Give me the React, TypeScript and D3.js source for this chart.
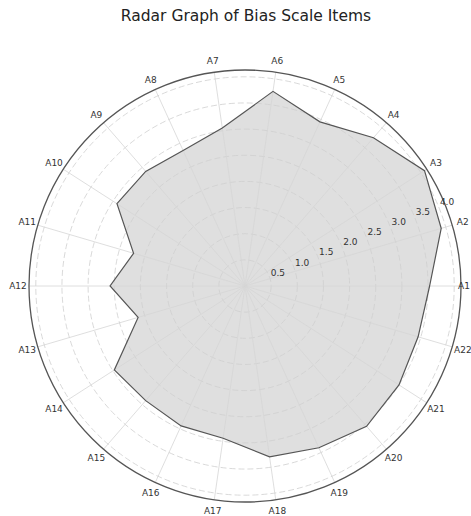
import React, { useEffect, useRef } from "react";
import * as d3 from "d3";

const items = ["A1", "A2", "A3", "A4", "A5", "A6", "A7", "A8", "A9", "A10", "A11",
  "A12", "A13", "A14", "A15", "A16", "A17", "A18", "A19", "A20", "A21", "A22"];
const scores = [3.53, 3.91, 4.08, 3.75, 3.45, 3.76, 3.05, 2.85, 2.9, 2.91, 2.22,
  2.58, 2.13, 2.97, 2.9, 2.94, 2.94, 3.3, 3.4, 3.55, 3.5, 3.45];
const rTicks = [0.5, 1.0, 1.5, 2.0, 2.5, 3.0, 3.5, 4.0];
const rMax = 4.13;

export default function App() {
  const ref = useRef<SVGSVGElement>(null);

  useEffect(() => {
    const width = 471, height = 516;
    const cx = 245, cy = 286, R = 216;
    const font = "DejaVu Sans, sans-serif";

    const svg = d3.select(ref.current);
    svg.selectAll("*").remove();

    svg.append("text")
      .attr("x", cx + 1)
      .attr("y", 20.5)
      .attr("text-anchor", "middle")
      .attr("font-family", font)
      .attr("font-size", 15.5)
      .attr("fill", "#222")
      .text("Radar Graph of Bias Scale Items");

    const r = d3.scaleLinear().domain([0, rMax]).range([0, R]);
    const angle = d3.scaleLinear().domain([0, items.length]).range([0, 2 * Math.PI]);
    // angle counter-clockwise from east
    const px = (a: number, rad: number) => cx + rad * Math.cos(a);
    const py = (a: number, rad: number) => cy - rad * Math.sin(a);

    const g = svg.append("g");

    const pts = scores.map((v, i) => [px(angle(i), r(v)), py(angle(i), r(v))] as [number, number]);
    const line = d3.line().curve(d3.curveLinearClosed);

    g.append("path")
      .attr("d", line(pts))
      .attr("fill", "#dfdfdf")
      .attr("stroke", "none");

    g.selectAll("circle.ring")
      .data(rTicks)
      .enter().append("circle")
      .attr("class", "ring")
      .attr("cx", cx)
      .attr("cy", cy)
      .attr("r", (d) => r(d))
      .attr("fill", "none")
      .attr("stroke", "#cfcfcf")
      .attr("stroke-width", 0.8)
      .attr("stroke-dasharray", "6,3");

    g.selectAll("line.spoke")
      .data(items)
      .enter().append("line")
      .attr("class", "spoke")
      .attr("x1", cx)
      .attr("y1", cy)
      .attr("x2", (d, i) => px(angle(i), R))
      .attr("y2", (d, i) => py(angle(i), R))
      .attr("stroke", "#d6d6d6")
      .attr("stroke-width", 0.8);

    g.append("path")
      .attr("d", line(pts))
      .attr("fill", "none")
      .attr("stroke", "#555")
      .attr("stroke-width", 1.2);

    g.append("circle")
      .attr("cx", cx)
      .attr("cy", cy)
      .attr("r", R)
      .attr("fill", "none")
      .attr("stroke", "#555")
      .attr("stroke-width", 1.3);

    const la = (22.5 * Math.PI) / 180;
    g.selectAll("text.rtick")
      .data(rTicks)
      .enter().append("text")
      .attr("class", "rtick")
      .attr("x", (d) => px(la, r(d) + 9.5))
      .attr("y", (d) => py(la, r(d) + 9.5))
      .attr("dy", "0.35em")
      .attr("text-anchor", "middle")
      .attr("font-family", font)
      .attr("font-size", 9)
      .attr("fill", "#333")
      .text((d) => d.toFixed(1));

    // angular labels; A1 sits at the page edge, so pin it inside
    g.selectAll("text.atick")
      .data(items)
      .enter().append("text")
      .attr("class", "atick")
      .attr("x", (d, i) => Math.min(px(angle(i), R + 11), width - 1))
      .attr("y", (d, i) => py(angle(i), R + 11))
      .attr("dy", "0.35em")
      .attr("text-anchor", (d, i) => px(angle(i), R + 11) > width - 8 ? "end" : "middle")
      .attr("font-family", font)
      .attr("font-size", 9)
      .attr("fill", "#333")
      .text((d) => d);

    svg.attr("width", width).attr("height", height);
  }, []);

  return (
    <svg ref={ref} width={471} height={516}
      style={{ position: "absolute", left: 0, top: 0, background: "#fff" }} />
  );
}
